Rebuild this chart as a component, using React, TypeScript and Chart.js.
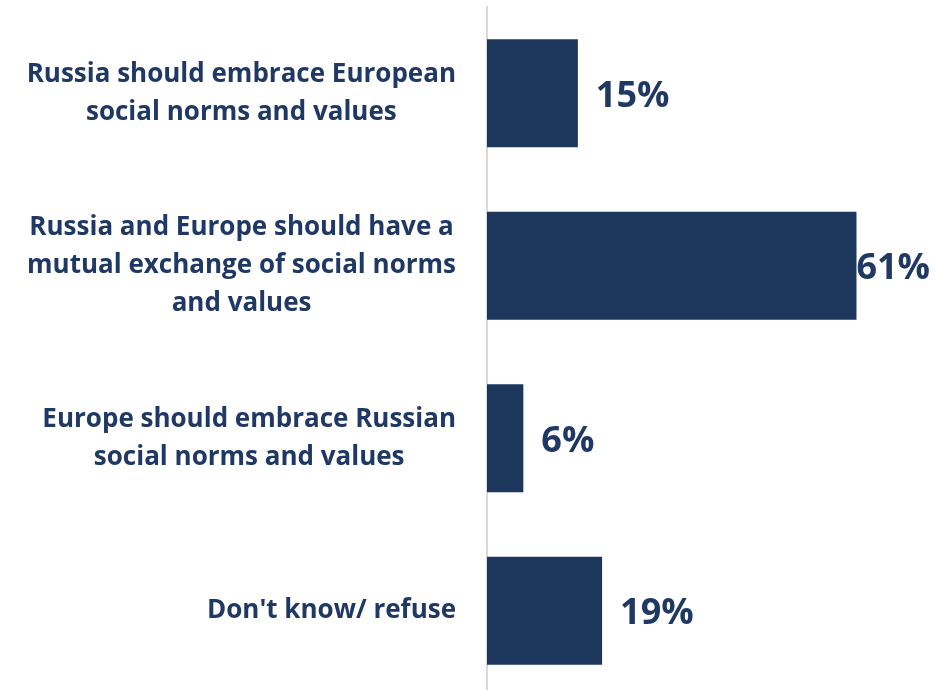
import React, { useEffect, useRef } from "react";
import { Chart, registerables } from "chart.js";

Chart.register(...registerables);

const categories: string[][] = [
  ["Russia should embrace European", "social norms and values"],
  ["Russia and Europe should have a", "mutual exchange of social norms", "and values"],
  ["Europe should embrace Russian", "social norms and values"],
  ["Don't know/ refuse"],
];
const values: number[] = [15, 61, 6, 19];

const BAR_COLOR = "#1d365c";
const TEXT_COLOR = "#1f3864";
const FONT = '"Open Sans", sans-serif';
const CAT_FONT = 26;
const LINE_H = 38;
const VAL_FONT = 36;

const labelPlugin = {
  id: "customLabels",
  afterDatasetsDraw(chart: any) {
    const ctx = chart.ctx as CanvasRenderingContext2D;
    const ys = chart.scales.y;
    const xs = chart.scales.x;
    ctx.save();
    ctx.fillStyle = TEXT_COLOR;
    ctx.textBaseline = "middle";
    ctx.font = `700 ${CAT_FONT}px ${FONT}`;
    ctx.textAlign = "center";
    categories.forEach((lines, i) => {
      const cy = ys.getPixelForValue(i);
      const bw = Math.max(...lines.map((l) => ctx.measureText(l).width));
      const cx = chart.chartArea.left - 31 - bw / 2;
      const total = lines.length * LINE_H;
      lines.forEach((l, j) => ctx.fillText(l, cx, cy - total / 2 + LINE_H * (j + 0.5)));
    });
    ctx.font = `700 ${VAL_FONT}px ${FONT}`;
    ctx.textAlign = "left";
    values.forEach((v, i) => {
      const s = `${v}%`;
      const w = ctx.measureText(s).width;
      let px = xs.getPixelForValue(v) + 18;
      px = Math.min(px, chart.width - w - 6);
      ctx.fillText(s, px, ys.getPixelForValue(i) + 3);
    });
    ctx.restore();
  },
};

export default function App() {
  const ref = useRef<HTMLCanvasElement>(null);
  useEffect(() => {
    document.body.style.margin = "0";
    document.body.style.overflow = "hidden";
    const chart = new Chart(ref.current!, {
      type: "bar",
      data: {
        labels: categories.map((c) => c.join(" ")),
        datasets: [
          {
            data: values,
            backgroundColor: BAR_COLOR,
            borderWidth: 0,
            categoryPercentage: 1,
            barPercentage: 0.626,
          },
        ],
      },
      options: {
        indexAxis: "y",
        animation: false,
        responsive: false,
        layout: { padding: { left: 479, top: 7, right: 25, bottom: 0 } },
        plugins: { legend: { display: false }, tooltip: { enabled: false } },
        scales: {
          x: { display: false, min: 0, max: 70 },
          y: {
            ticks: { display: false },
            grid: { display: false },
            border: { display: true, color: "#d9d9d9", width: 2 },
          },
        },
      },
      plugins: [labelPlugin],
    });
    return () => chart.destroy();
  }, []);
  return (
    <div style={{ width: 936, height: 697 }}>
      <canvas ref={ref} width={936} height={697} />
    </div>
  );
}
